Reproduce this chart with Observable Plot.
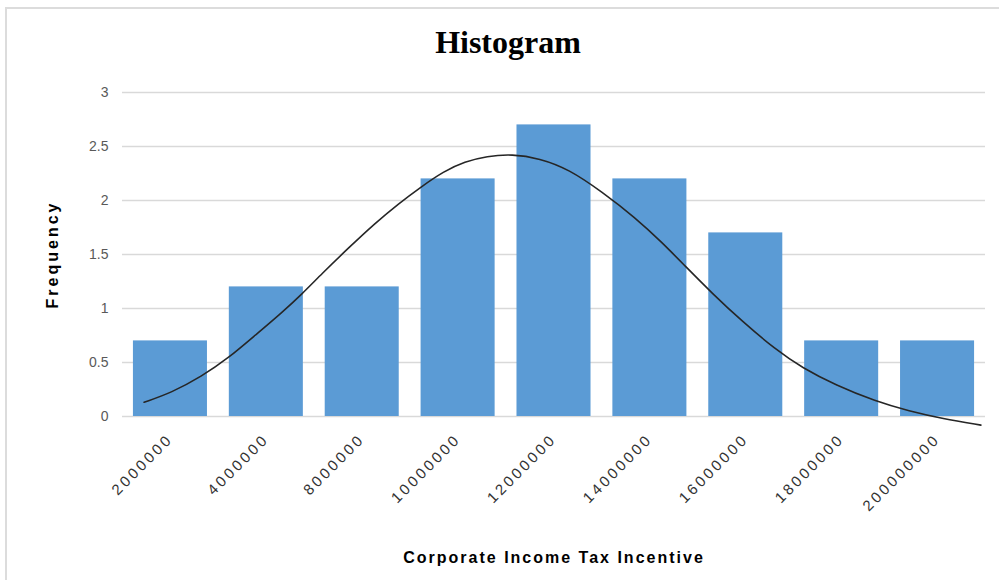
<!DOCTYPE html>
<html><head><meta charset="utf-8">
<script src="https://cdn.jsdelivr.net/npm/d3@7"></script>
<script src="https://cdn.jsdelivr.net/npm/@observablehq/plot@0.6"></script>
<style>
html,body{margin:0;padding:0;background:#fff;overflow:hidden}
#wrap{position:relative;width:999px;height:580px;overflow:hidden}
#frame{position:absolute;left:5px;top:7px;width:1100px;height:700px;border:2px solid #dcdcdc;box-sizing:border-box}
#title{position:absolute;left:0;width:1016px;top:24px;text-align:center;font-family:"Liberation Serif",serif;font-weight:bold;font-size:32px;line-height:36px;color:#000}
#chart{position:absolute;left:0;top:0}
g[aria-label="y-axis tick label"] text{fill:#595959}
g[aria-label="x-axis tick label"] text{fill:#333;letter-spacing:3px}
g[aria-label="y-axis label"] text{font-size:16px;font-weight:600;letter-spacing:3px;fill:#000}
g[aria-label="x-axis label"] text{font-size:16px;font-weight:600;letter-spacing:2px;fill:#000}
</style></head><body>
<div id="wrap"><div id="frame"></div><div id="chart"></div><div id="title">Histogram</div></div>
<script>
const categories = ["2000000","4000000","8000000","10000000","12000000","14000000","16000000","18000000","200000000"];
const frequencies = [0.7, 1.2, 1.2, 2.2, 2.7, 2.2, 1.7, 0.7, 0.7];
const yTicks = [0, 0.5, 1, 1.5, 2, 2.5, 3];
// fitted curve, x in category-index units
const curveX = [-0.275, 0.01, 0.324, 0.603, 0.88, 1.159, 1.368, 1.577, 1.856, 2.134, 2.378, 2.604, 2.85, 3.07, 3.3, 3.561, 3.85, 4.154, 4.501, 4.849, 5.128, 5.371, 5.65, 5.963, 6.311, 6.59, 6.938, 7.355, 7.704, 8.052, 8.452];
const curveY = [0.132, 0.22, 0.37, 0.54, 0.75, 0.96, 1.13, 1.32, 1.56, 1.79, 1.97, 2.12, 2.27, 2.36, 2.41, 2.43, 2.39, 2.29, 2.08, 1.84, 1.61, 1.39, 1.14, 0.88, 0.62, 0.45, 0.29, 0.14, 0.05, -0.02, -0.08];

const bars = categories.map((c, i) => ({i, c, f: frequencies[i]}));
const curve = curveX.map((x, k) => ({x, y: curveY[k]}));
const half = 0.386;

const chart = Plot.plot({
  width: 999, height: 580,
  marginLeft: 122, marginRight: 14, marginTop: 92, marginBottom: 164,
  style: {fontFamily: "'Liberation Sans', Arial, sans-serif", fontSize: "14px", background: "transparent"},
  x: {domain: [-0.5, 8.5]},
  y: {domain: [0, 3]},
  marks: [
    Plot.ruleY(yTicks, {stroke: "#d9d9d9", strokeWidth: 1.6}),
    Plot.rectY(bars, {x1: d => d.i - half, x2: d => d.i + half, y: "f", fill: "#5b9bd5"}),
    Plot.line(curve, {x: "x", y: "y", stroke: "#262626", strokeWidth: 1.6, curve: "basis"}),
    Plot.axisY(yTicks, {tickSize: 0, tickPadding: 14, tickFormat: d => String(d), fontSize: 14,
      label: "Frequency", labelAnchor: "center", labelArrow: "none", labelOffset: 76}),
    Plot.axisX(d3.range(categories.length), {tickSize: 0, tickPadding: 20, tickRotate: -45, fontSize: 15,
      tickFormat: i => categories[i],
      label: "Corporate Income Tax Incentive", labelAnchor: "center", labelArrow: "none", labelOffset: 146})
  ]
});
document.getElementById("chart").appendChild(chart);
</script>
</body></html>
